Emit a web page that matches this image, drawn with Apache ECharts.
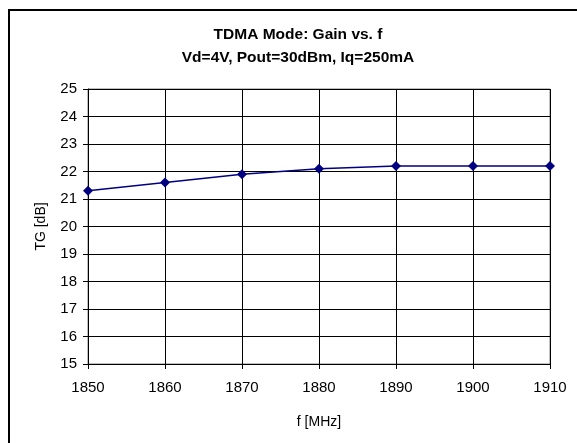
<!DOCTYPE html>
<html>
<head>
<meta charset="utf-8">
<script src="https://cdn.jsdelivr.net/npm/echarts@6/dist/echarts.min.js"></script>
<style>
  html, body { margin: 0; padding: 0; background: #fff; }
  #chart { width: 577px; height: 443px; }
</style>
</head>
<body>
<div id="chart"></div>
<script>
// frequency points [MHz] and measured gain [dB]
const freqs = [1850, 1860, 1870, 1880, 1890, 1900, 1910];
const gain = [21.3, 21.6, 21.9, 22.1, 22.2, 22.2, 22.2];

const titleLines = ['TDMA Mode: Gain vs. f', 'Vd=4V, Pout=30dBm, Iq=250mA'];
const xName = 'f [MHz]';
const yName = 'TG [dB]';

const chart = echarts.init(document.getElementById('chart'));

const font = 'Arial, "Liberation Sans", sans-serif';

chart.setOption({
  animation: false,
  textStyle: { fontFamily: font },
  title: {
    text: titleLines.join('\n'),
    left: 298,
    top: 23,
    padding: 0,
    textAlign: 'center',
    textStyle: { fontSize: 15.5, fontWeight: 'bold', color: '#000', lineHeight: 23, fontFamily: font }
  },
  graphic: [
    {
      type: 'rect',
      shape: { x: 9, y: 10, width: 620, height: 500 },
      style: { fill: 'none', stroke: '#000', lineWidth: 2 },
      silent: true
    }
  ],
  grid: { left: 88, right: 27, top: 89, bottom: 79, show: true, borderColor: '#808080', borderWidth: 1 },
  xAxis: {
    type: 'value',
    min: 1850,
    max: 1910,
    interval: 10,
    name: xName,
    nameLocation: 'middle',
    nameGap: 51,
    nameTextStyle: { fontSize: 14, color: '#000' },
    axisLine: { lineStyle: { color: '#000', width: 1 } },
    axisTick: { show: true, length: 5, inside: false, lineStyle: { color: '#000' } },
    axisLabel: { fontSize: 15, color: '#000', margin: 16, formatter: v => String(v) },
    splitLine: { show: true, lineStyle: { color: '#000', width: 1 } }
  },
  yAxis: {
    type: 'value',
    min: 15,
    max: 25,
    interval: 1,
    name: yName,
    nameLocation: 'middle',
    nameGap: 40,
    nameTextStyle: { fontSize: 14, color: '#000' },
    axisLine: { show: true, lineStyle: { color: '#000', width: 1 } },
    axisTick: { show: true, length: 5, lineStyle: { color: '#000' } },
    axisLabel: { fontSize: 15, color: '#000', margin: 11 },
    splitLine: { show: true, lineStyle: { color: '#000', width: 1 } }
  },
  series: [
    {
      type: 'line',
      data: freqs.map((f, i) => [f, gain[i]]),
      symbol: 'diamond',
      symbolSize: 10,
      lineStyle: { color: '#000080', width: 1.5 },
      itemStyle: { color: '#000080' }
    }
  ]
});
</script>
</body>
</html>
